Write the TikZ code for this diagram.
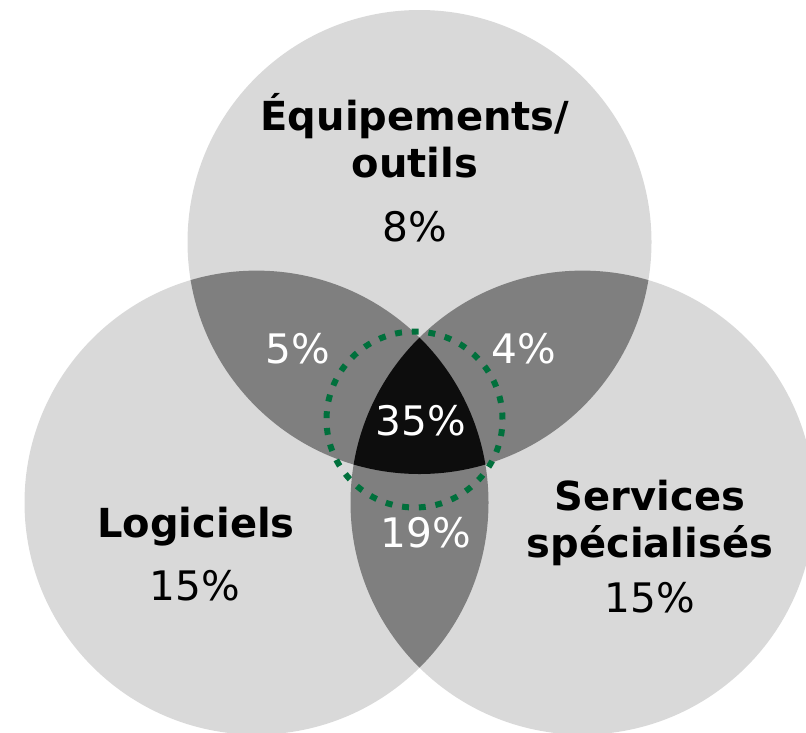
\documentclass[tikz,border=0pt]{standalone}
\usepackage{fontspec}
\setmainfont{DejaVu Sans}
\usepackage{tikz}
\tikzset{
  every node/.append style={font=\fontsize{30.5}{35}\selectfont, inner sep=0pt},
}
\tikzset{
  setname/.style={align=center, anchor=base, font=\fontsize{30}{35}\selectfont\bfseries},
  share/.style={anchor=base},
  inshare/.style={anchor=base, text=white}
}

\begin{document}
\begin{tikzpicture}[
  x=0.75pt, y=-0.75pt,
  set/.style={radius=174pt},
  core/.style={draw=coregreen, line width=4.5pt, dash pattern=on 5.2pt off 7.37pt}
]
\definecolor{setgrey}{RGB}{217,217,217}
\definecolor{pairgrey}{RGB}{127,127,127}
\definecolor{triplegrey}{RGB}{13,13,13}
\definecolor{coregreen}{RGB}{0,112,60}

\useasboundingbox (0,0) rectangle (806,732);
\clip (0,0) rectangle (806,732);

\coordinate (equipc) at (419.5,242);
\coordinate (logc) at (256.5,502.6);
\coordinate (servc) at (582.5,502.6);

\fill[setgrey] (equipc) circle[set] (logc) circle[set] (servc) circle[set];

% Pairwise overlaps
\begin{scope}
  \clip (equipc) circle[set];
  \fill[pairgrey] (logc) circle[set];
  \fill[pairgrey] (servc) circle[set];
\end{scope}
\begin{scope}
  \clip (logc) circle[set];
  \fill[pairgrey] (servc) circle[set];
\end{scope}
\begin{scope}
  \clip (equipc) circle[set];
  \clip (logc) circle[set];
  \fill[triplegrey] (servc) circle[set];
\end{scope}

\draw[core] (414.5,419.5) coordinate (corec) circle[radius=66pt];

\node[setname] (equip) at (415,177) {Équipements/\\outils};
\node[share] (equippct) at (415,241) {8\%};
\node[setname] (log) at (196,537) {Logiciels};
\node[share] (logpct) at (195,600) {15\%};
\node[setname] (serv) at (650,557) {Services\\spécialisés};
\node[share] (servpct) at (650,612) {15\%};

\node[inshare] (equiplogpct) at (297.5,363) {5\%};
\node[inshare] (equipservpct) at (524,363) {4\%};
\node[inshare] (logservpct) at (426,547) {19\%};
\node[inshare] (allpct) at (421,435) {35\%};
\end{tikzpicture}
\end{document}
